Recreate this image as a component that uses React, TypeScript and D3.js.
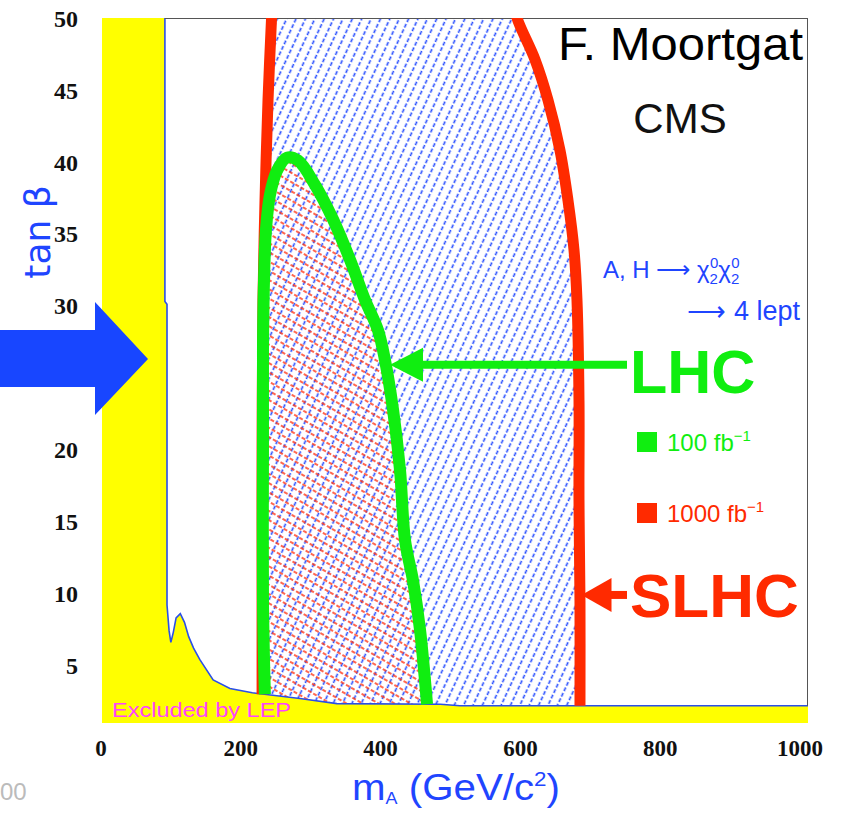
import React, { useMemo } from 'react';
import * as d3 from 'd3';

type Pt = [number, number]; // [m_A, tan beta]

const xTicks = [0, 200, 400, 600, 800, 1000];
const yTicks = [5, 10, 15, 20, 25, 30, 35, 40, 45, 50];

// LEP exclusion boundary
const lepBoundary: Pt[] = [
  [90, 50], [90, 30.3], [93, 30.1], [93, 9.2], [96, 7.4], [98.5, 6.6], [102, 7.3],
  [106, 8.3], [112, 8.6], [118, 8.0], [124, 7.0], [131, 6.2], [140, 5.4], [159, 4.0],
  [183, 3.4], [215, 3.1], [283, 2.7], [336, 2.35], [484, 2.3], [512, 2.2], [1010, 2.2],
];

// LHC, 100 fb^-1 discovery contour
const lhcContour: Pt[] = [
  [233, 3.0], [230.3, 9.5], [230.3, 20], [230.3, 26.9], [231.8, 31.8], [234.6, 35.3],
  [240.3, 37.7], [250.4, 39.4], [264.7, 40.3], [280.4, 40.1], [304.7, 38.4], [330.5, 36],
  [354.8, 33.2], [376.3, 30.4], [394.8, 28.3], [404.9, 26.2], [416.3, 22.8], [426.3, 18.6],
  [433.5, 13.7], [444.9, 10.9], [454.9, 7.5], [465, 2.3],
];

// SLHC, 1000 fb^-1 discovery contour (low-mass and high-mass edges)
const slhcLeft: Pt[] = [
  [229, 3.0], [229, 9.5], [229, 20], [230.3, 30.4], [233.2, 37.3], [237.5, 44.3], [243.5, 51],
];
const slhcRight: Pt[] = [
  [590, 51], [593.7, 50], [619.5, 47.1], [638, 44.3], [655.2, 40.8], [666.7, 37.3],
  [675.2, 33.9], [679.5, 30.4], [682.4, 23.4], [682.4, 16.5], [683.8, 9.5], [683.8, 2.2],
];

const BLUE = '#1f45ff';
const GREEN = '#10ee10';
const RED = '#ff2a00';

const App: React.FC = () => {
  const { x, y, allowedPath, lepPath, lhcPath, slhcLeftPath, slhcRightPath, lhcRegion, slhcRegion } = useMemo(() => {
    const x = d3.scaleLinear().domain([0, 1010]).range([102, 808]);
    const y = d3.scaleLinear().domain([1, 50]).range([723, 18]);
    const lin = d3.line<Pt>().x(d => x(d[0])).y(d => y(d[1]));
    const smooth = d3.line<Pt>().x(d => x(d[0])).y(d => y(d[1])).curve(d3.curveCatmullRom.alpha(0.5));

    const allowed: Pt[] = [...lepBoundary, [1010, 51], [90, 51]];
    const lhcClosed: Pt[] = [[233, 1], ...lhcContour, [465, 1]];

    return {
      x, y,
      allowedPath: lin(allowed) + 'Z',
      lepPath: lin(lepBoundary) || '',
      lhcPath: smooth(lhcContour) || '',
      slhcLeftPath: smooth(slhcLeft) || '',
      slhcRightPath: smooth(slhcRight) || '',
      lhcRegion: smooth(lhcClosed) + 'Z',
      slhcRegion: `M${x(229)},${y(1)}` + (smooth(slhcLeft) || '').replace('M', 'L') +
        (smooth(slhcRight) || '').replace('M', 'L') + `L${x(683.8)},${y(1)}Z`,
    };
  }, []);

  const [x0, x1] = x.range();
  const [yb, yt] = y.range();
  const arrowY = y(26.3);

  return (
    <svg width={846} height={822} style={{ position: 'absolute', left: 0, top: 0, background: '#fff' }}
      fontFamily="'Liberation Sans', Arial, sans-serif">
      <defs>
        <clipPath id="plotArea"><rect x={x0} y={yt} width={x1 - x0} height={yb - yt} /></clipPath>
        <clipPath id="allowed"><path d={allowedPath} /></clipPath>
        <clipPath id="lhcClip"><path d={lhcRegion} /></clipPath>
        <clipPath id="slhcClip"><path d={slhcRegion} /></clipPath>
        <pattern id="blueHatch" width="8.5" height="12" patternUnits="userSpaceOnUse" patternTransform="rotate(25)">
          <line x1="4.25" y1="0" x2="4.25" y2="12" stroke="#2a50ff" strokeWidth="1.6" strokeDasharray="4 2" />
        </pattern>
        <pattern id="redHatch" width="12" height="8" patternUnits="userSpaceOnUse" patternTransform="rotate(30)">
          <line x1="0" y1="4" x2="12" y2="4" stroke="#ff3515" strokeWidth="1.5" strokeDasharray="4 2" />
        </pattern>
      </defs>

      {/* faint remnant of the slide behind */}
      <text x={0} y={800} fontSize={24} fill="#bbb">00</text>

      <g clipPath="url(#plotArea)">
        {/* excluded region background */}
        <rect x={x0} y={yt} width={x1 - x0} height={yb - yt} fill="#ffff00" />
        <path d={allowedPath} fill="#fff" />

        {/* hatched discovery regions */}
        <g clipPath="url(#allowed)">
          <g clipPath="url(#slhcClip)">
            <rect x={x0} y={yt} width={x1 - x0} height={yb - yt} fill="url(#blueHatch)" />
          </g>
          <g clipPath="url(#lhcClip)">
            <rect x={x0} y={yt} width={x1 - x0} height={yb - yt} fill="url(#redHatch)" />
          </g>
        </g>

        <path d={lepPath} fill="none" stroke="#2a4fe8" strokeWidth={1.6} />

        {/* frame */}
        <line x1={x(90)} y1={yt + 0.5} x2={x1} y2={yt + 0.5} stroke="#555" strokeWidth={1} />
        <line x1={x1 - 0.5} y1={yt} x2={x1 - 0.5} y2={y(2.2)} stroke="#555" strokeWidth={1} />

        <path d={slhcLeftPath} fill="none" stroke={RED} strokeWidth={11} />
        <path d={slhcRightPath} fill="none" stroke={RED} strokeWidth={11} />
        <path d={lhcPath} fill="none" stroke={GREEN} strokeWidth={12} />

        <text x={112} y={717} fontSize={20} fill="#ff44ff" textLength={179} lengthAdjust="spacingAndGlyphs">Excluded by LEP</text>
      </g>

      {/* axis tick labels */}
      {yTicks.map(t => (
        <text key={t} x={78} y={y(t)} dy="0.36em" textAnchor="end" fontSize={24} fontWeight="bold"
          fontFamily="'Liberation Serif', serif" fill="#111">{t}</text>
      ))}
      {xTicks.map(t => (
        <text key={t} x={x(t) - 1} y={756} textAnchor="middle" fontSize={23} fontWeight="bold"
          fontFamily="'Liberation Serif', serif" fill="#111">{t}</text>
      ))}

      {/* axis titles */}
      <text transform="translate(50,232) rotate(-90)" textAnchor="middle" fontSize={36} fill={BLUE}
        fontFamily="'DejaVu Sans', sans-serif">tan β</text>
      <text x={352} y={800} fontSize={36} fill={BLUE} textLength={208} lengthAdjust="spacingAndGlyphs">
        m<tspan fontSize={16} dy={4}>A</tspan><tspan dy={-4}> (GeV/c</tspan><tspan fontSize={20} dy={-14}>2</tspan><tspan dy={14}>)</tspan>
      </text>

      {/* labels */}
      <text x={558} y={60} fontSize={47} fill="#000" textLength={245} lengthAdjust="spacingAndGlyphs">F. Moortgat</text>
      <text x={680} y={133} fontSize={42} fill="#111" textAnchor="middle">CMS</text>

      <text x={603} y={278} fontSize={24} fill={BLUE}>
        A, H ⟶ χ<tspan fontSize={15} dy={6}>2</tspan><tspan fontSize={15} dx={-8} dy={-16}>0</tspan>
        <tspan fontSize={24} dy={10}>χ</tspan><tspan fontSize={15} dy={6}>2</tspan><tspan fontSize={15} dx={-8} dy={-16}>0</tspan>
      </text>
      <text x={800} y={320} fontSize={27} fill={BLUE} textAnchor="end">⟶ 4 lept</text>

      <text x={630} y={393} fontSize={61} fontWeight="bold" fill={GREEN}>LHC</text>
      <line x1={x(414) + 30} y1={y(25.9)} x2={627} y2={y(25.9)} stroke={GREEN} strokeWidth={8} />
      <path d={`M${x(412)},${y(25.9)} L${x(412) + 33},${y(25.9) - 17} L${x(412) + 33},${y(25.9) + 17} Z`} fill={GREEN} />

      <rect x={637} y={432} width={20} height={20} fill={GREEN} />
      <text x={667} y={451} fontSize={24} fill={GREEN}>100 fb<tspan fontSize={15} dy={-10}>−1</tspan></text>
      <rect x={637} y={503} width={20} height={20} fill={RED} />
      <text x={667} y={522} fontSize={24} fill={RED}>1000 fb<tspan fontSize={15} dy={-10}>−1</tspan></text>

      <text x={630} y={617} fontSize={62} fontWeight="bold" fill={RED}>SLHC</text>
      <line x1={610} y1={y(9.9)} x2={627} y2={y(9.9)} stroke={RED} strokeWidth={8} />
      <path d={`M${x(686)},${y(9.9)} L${x(686) + 30},${y(9.9) - 17} L${x(686) + 30},${y(9.9) + 17} Z`} fill={RED} />

      {/* big pointer on the left */}
      <path d={`M0,${arrowY - 29} L95,${arrowY - 29} L95,${arrowY - 57} L148,${arrowY} L95,${arrowY + 56} L95,${arrowY + 28} L0,${arrowY + 28} Z`}
        fill="#1846ff" />
    </svg>
  );
};

export default App;
